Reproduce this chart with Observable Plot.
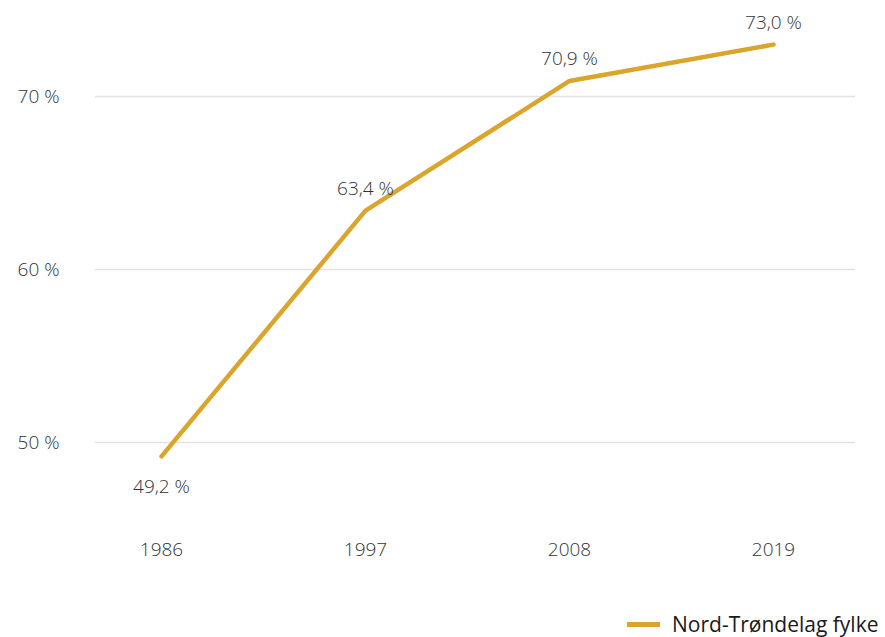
<!DOCTYPE html>
<html>
<head>
<meta charset="utf-8">
<script src="https://cdn.jsdelivr.net/npm/d3@7"></script>
<script src="https://cdn.jsdelivr.net/npm/@observablehq/plot@0.6"></script>
<style>
  html, body { margin: 0; padding: 0; background: #fff; width: 885px; height: 637px; overflow: hidden; }
  #wrap { position: relative; width: 885px; height: 637px; }
  #legend { position: absolute; left: 627px; top: 610px; display: flex; align-items: center; font-family: "Open Sans", sans-serif; font-size: 21px; color: #1a1a1a; white-space: nowrap; }
  #legend .sw { width: 33px; height: 5px; background: #DAA52A; margin-right: 12px; }
</style>
</head>
<body>
<div id="wrap"><div id="chart"></div><div id="legend"><span class="sw"></span><span>Nord-Trøndelag fylke</span></div></div>
<script>
const years = ["1986", "1997", "2008", "2019"];
const values = [49.2, 63.4, 70.9, 73.0];
const yTicks = [50, 60, 70];
const seriesName = "Nord-Trøndelag fylke";

const data = years.map((y, i) => ({year: y, value: values[i], label: values[i].toFixed(1).replace(".", ",") + " %"}));
const color = "#DAA52A";
const textColor = "#333333";
const fontFamily = "'Open Sans', sans-serif";
const fs = 19;

const chart = Plot.plot({
  width: 885,
  height: 600,
  marginLeft: 95,
  marginRight: 30,
  marginTop: 0,
  marginBottom: 70,
  style: {fontFamily, fontSize: fs + "px", color: textColor, background: "#fff", fontWeight: 300},
  x: {type: "point", domain: years, range: [160, 774], padding: 0, label: null},
  y: {domain: [50, 70], range: [442, 96], label: null},
  marks: [
    Plot.ruleY(yTicks, {stroke: "#e3e3e3", strokeWidth: 1.5}),
    Plot.axisY({ticks: yTicks, tickFormat: d => `${d} %`, tickSize: 0, tickPadding: 36, fontSize: fs, label: null}),
    Plot.axisX({tickSize: 0, tickPadding: 12, fontSize: fs, label: null}),
    Plot.line(data, {x: "year", y: "value", stroke: color, strokeWidth: 4.5, strokeLinejoin: "round", strokeLinecap: "round"}),
    Plot.text(data.filter((d, i) => i === 0), {x: "year", y: "value", text: "label", dy: 31, fontSize: fs, fill: textColor}),
    Plot.text(data.filter((d, i) => i > 0), {x: "year", y: "value", text: "label", dy: -22, fontSize: fs, fill: textColor})
  ]
});
document.getElementById("chart").appendChild(chart);
</script>
</body>
</html>
